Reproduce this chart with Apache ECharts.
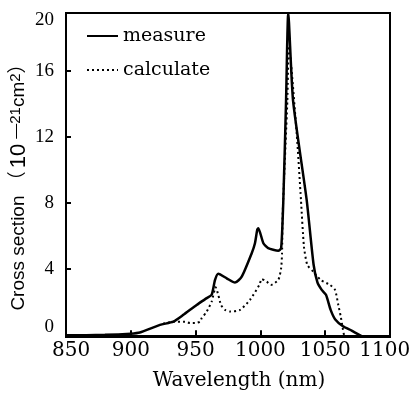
<!DOCTYPE html>
<html>
<head>
<meta charset="utf-8">
<script src="https://cdn.jsdelivr.net/npm/echarts@6/dist/echarts.min.js"></script>
<style>
  html, body { margin: 0; padding: 0; background: #fff; }
  #chart { width: 413px; height: 396px; }
</style>
</head>
<body>
<div id="chart"></div>
<script>
// measured curve (solid)
var measureWl  = [850, 880, 900, 907, 922.5, 932.8, 940.5, 950.8, 958.6, 962.4, 965, 967.5, 974, 980.4, 985.6, 993.3, 995.8, 997.6, 998.4, 1002.3, 1006, 1013.8, 1016, 1017.7, 1019.8, 1021.5, 1025.2, 1035.7, 1041, 1044, 1047.3, 1050.6, 1054.2, 1057.6, 1064, 1070.4, 1078];
var measureVal = [0, 0.03, 0.1, 0.17, 0.63, 0.83, 1.24, 1.84, 2.25, 2.45, 3.35, 3.72, 3.45, 3.19, 3.55, 4.97, 5.57, 6.4, 6.48, 5.57, 5.27, 5.12, 5.27, 8.19, 14.2, 19.5, 14.2, 8.19, 4.3, 3.2, 2.75, 2.45, 1.54, 0.98, 0.53, 0.29, -0.05];

// calculated curve (dotted)
var calcWl  = [925, 932.8, 941.8, 945.7, 949.5, 953.4, 954.7, 958.6, 962.4, 965.5, 967.5, 969.6, 972.7, 976.5, 984.3, 992, 999.2, 1001, 1004.9, 1008, 1013.8, 1016, 1016.7, 1017.2, 1020.8, 1022, 1028, 1031.3, 1033.6, 1036.2, 1040.8, 1046.5, 1053.7, 1057.6, 1060.1, 1062, 1063.5, 1064.5];
var calcVal = [0.7, 0.83, 0.83, 0.74, 0.74, 0.83, 1.04, 1.44, 2.04, 2.91, 2.45, 1.84, 1.54, 1.44, 1.54, 2.15, 3.05, 3.4, 3.25, 3.05, 3.35, 4.06, 4.97, 7.38, 14.2, 17.5, 12.2, 8.19, 5.37, 4.26, 3.85, 3.35, 3.05, 2.75, 1.84, 1.14, 0.44, 0.03];

// tick marks and where their labels sit (end labels are nudged inward as in the figure)
var yTicks  = [0, 4, 8, 12, 16];
var yLabels = [0.5, 4, 8, 12, 16, 19.1];
var xLabels = [854, 900, 950, 1000, 1050, 1096];

function pairs(xs, ys) {
  return xs.map(function (x, i) { return [x, ys[i]]; });
}

var chart = echarts.init(document.getElementById('chart'));

chart.setOption({
  backgroundColor: '#fff',
  animation: false,
  grid: {
    left: 66, right: 23, top: 13, bottom: 59,
    outerBoundsMode: 'none',
    show: true, borderColor: '#000', borderWidth: 2
  },
  legend: {
    orient: 'vertical',
    left: 81, top: 21,
    itemWidth: 31, itemHeight: 12, itemGap: 14,
    itemStyle: { opacity: 0 },
    textStyle: { fontFamily: 'DejaVu Serif', fontSize: 19, color: '#000', lineHeight: 20 },
    data: ['measure', 'calculate']
  },
  xAxis: {
    type: 'value',
    min: 850, max: 1100, interval: 50,
    name: 'Wavelength (nm)',
    nameLocation: 'middle',
    nameGap: 34,
    nameMoveOverlap: false,
    nameTextStyle: {
      fontFamily: 'DejaVu Serif', fontSize: 20, color: '#000',
      padding: [0, 0, 0, 22]
    },
    axisLine: { lineStyle: { color: '#000', width: 2 } },
    axisTick: { inside: true, length: 5, lineStyle: { color: '#000', width: 2 } },
    axisLabel: {
      customValues: xLabels,
      fontFamily: 'DejaVu Serif', fontSize: 20, color: '#000', margin: 4,
      formatter: function (v) { return String(Math.round(v / 50) * 50); }
    },
    splitLine: { show: false }
  },
  yAxis: {
    type: 'value',
    min: -0.1, max: 19.5,
    name: '{a|Cross section （}{b|10}{s|—21}{a|cm}{s|2}{a|）}',
    nameLocation: 'middle',
    nameGap: 36,
    nameRotate: 90,
    nameMoveOverlap: false,
    nameTextStyle: {
      padding: [0, 15, 0, 0],
      rich: {
        a: { fontFamily: 'Liberation Sans, Noto Sans CJK SC', fontSize: 19, color: '#000', lineHeight: 22 },
        b: { fontFamily: 'Liberation Sans', fontSize: 22, color: '#000', lineHeight: 22, padding: [0, 5, 0, 3] },
        s: { fontFamily: 'Liberation Sans', fontSize: 15, color: '#000', lineHeight: 22, verticalAlign: 'top' }
      }
    },
    axisLine: { show: true, lineStyle: { color: '#000', width: 2 } },
    axisTick: { inside: true, length: 5, customValues: yTicks, lineStyle: { color: '#000', width: 2 } },
    axisLabel: {
      customValues: yLabels,
      fontFamily: 'Liberation Serif', fontSize: 19, color: '#000', margin: 12,
      formatter: function (v) { return String(Math.round(v / 4) * 4); }
    },
    splitLine: { show: false }
  },
  series: [
    {
      name: 'measure',
      type: 'line',
      data: pairs(measureWl, measureVal),
      symbol: 'none',
      smooth: 0.2,
      lineStyle: { color: '#000', width: 2.5 },
      itemStyle: { color: '#000' }
    },
    {
      name: 'calculate',
      type: 'line',
      data: pairs(calcWl, calcVal),
      symbol: 'none',
      smooth: 0.2,
      lineStyle: { color: '#000', width: 2, type: [2, 3] },
      itemStyle: { color: '#000' }
    }
  ]
});
</script>
</body>
</html>
